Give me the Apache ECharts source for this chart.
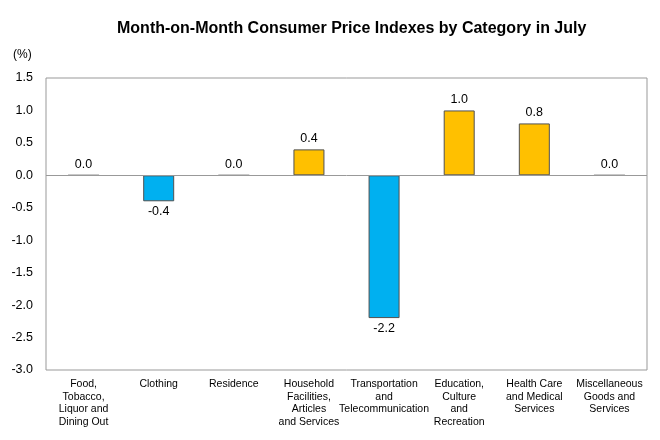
<!DOCTYPE html>
<html><head><meta charset="utf-8">
<script src="https://cdn.jsdelivr.net/npm/echarts@6/dist/echarts.min.js"></script>
<style>html,body{margin:0;padding:0;background:#fff}#c{width:660px;height:440px}</style>
</head><body><div id="c"></div>
<script>
var categories = ["Food,\nTobacco,\nLiquor and\nDining Out","Clothing","Residence","Household\nFacilities,\nArticles\nand Services","Transportation\nand\nTelecommunication","Education,\nCulture\nand\nRecreation","Health Care\nand Medical\nServices","Miscellaneous\nGoods and\nServices"];
var values = [0.0, -0.4, 0.0, 0.4, -2.2, 1.0, 0.8, 0.0];
var yTicks = { min: -3.0, max: 1.5, interval: 0.5 };
var posColor = '#FFC000', negColor = '#00B0F0';
var font = "'Liberation Sans', Arial, sans-serif";
var data = values.map(function(v){
  return { value: v, itemStyle: { color: v < 0 ? negColor : posColor },
           label: { position: v < 0 ? 'bottom' : 'top' } };
});
var chart = echarts.init(document.getElementById('c'));
chart.setOption({
  animation: false,
  title: { text: 'Month-on-Month Consumer Price Indexes by Category in July', left: 112, top: 16,
    textStyle: { fontFamily: font, fontSize: 16, fontWeight: 'bold', color: '#000' } },
  graphic: [{ type: 'text', left: 13, top: 49, style: { text: '(%)', font: "12px 'Liberation Sans', Arial", fill: '#000' } }],
  grid: { left: 46, right: 13, top: 78, bottom: 70, show: true, borderColor: '#999', borderWidth: 1 },
  xAxis: { type: 'category', data: categories,
    axisLine: { show: false, onZero: false }, axisTick: { show: false },
    axisLabel: { interval: 0, fontFamily: font, fontSize: 10.5, lineHeight: 12.5, color: '#000', margin: 8 } },
  yAxis: { type: 'value', min: yTicks.min, max: yTicks.max, interval: yTicks.interval,
    axisLine: { show: false }, axisTick: { show: false }, splitLine: { show: false },
    axisLabel: { formatter: function(v){ return v.toFixed(1); }, fontFamily: font, fontSize: 12.5, color: '#000', margin: 13 } },
  series: [{ type: 'bar', data: data, barWidth: 31,
    itemStyle: { borderColor: '#505050', borderWidth: 1 },
    label: { show: true, formatter: function(p){ return p.value.toFixed(1); }, fontFamily: font, fontSize: 12.5, color: '#000', distance: 4 },
    markLine: { silent: true, symbol: 'none', label: { show: false }, lineStyle: { color: '#999', type: 'solid', width: 1 }, data: [{ yAxis: 0 }] }
  }]
});
</script></body></html>
